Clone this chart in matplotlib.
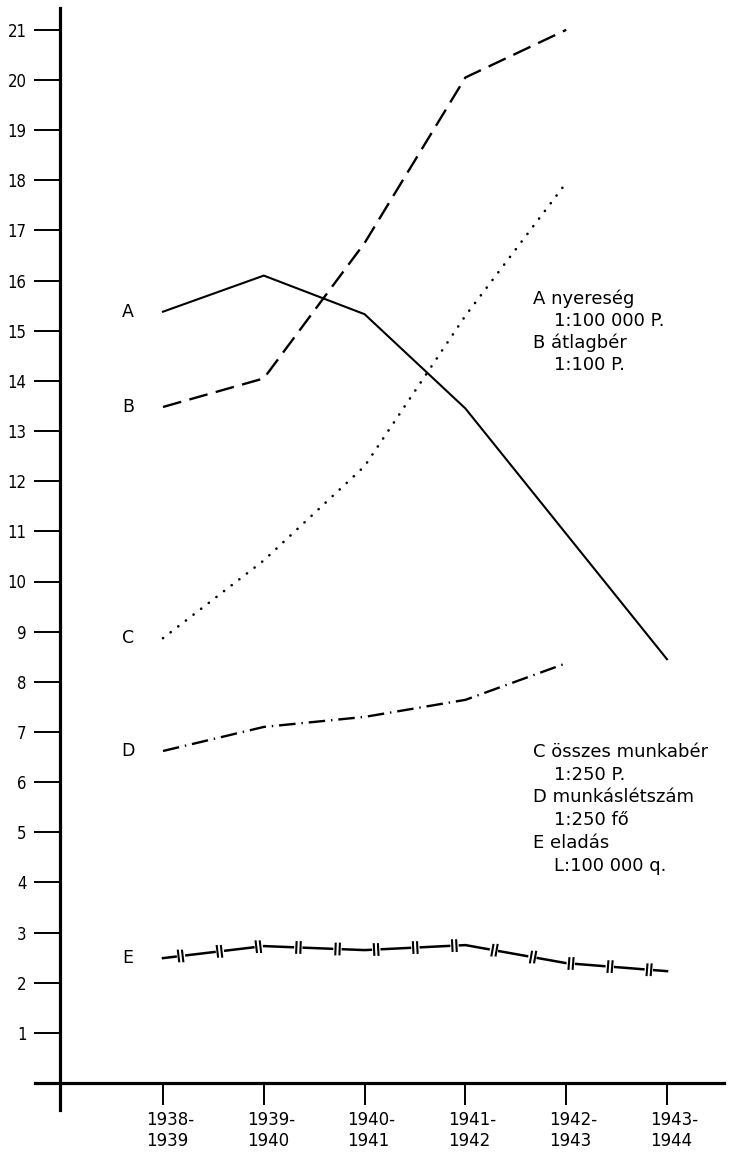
import matplotlib
matplotlib.use('Agg')
import matplotlib.pyplot as plt
from matplotlib import patheffects as pe
from matplotlib import transforms as mtrans

# data (units of the y scale)
years = ['1938-\n1939', '1939-\n1940', '1940-\n1941', '1941-\n1942', '1942-\n1943', '1943-\n1944']
nyereseg = [15.38, 16.1, 15.33, 13.45, 10.95, 8.45]      # A
atlagber = [13.48, 14.05, 16.75, 20.05, 21.0]             # B
osszes_munkaber = [8.87, 10.42, 12.3, 15.3, 17.95]        # C
munkaslétszam = [6.62, 7.1, 7.3, 7.64, 8.37]              # D
eladas = [2.49, 2.73, 2.65, 2.75, 2.39, 2.23]             # E
y_ticks = list(range(1, 22))

plt.rcParams['font.family'] = ['DejaVu Sans']

W, H = 731, 1154
fig = plt.figure(figsize=(W / 100, H / 100), dpi=100)
# pixel frame of the drawing: x axis spans 35..724, y axis spans 8..1110
ax = fig.add_axes([35 / W, (H - 1110) / H, (724 - 35) / W, (1110 - 8) / H])

x = list(range(len(years)))
px_x = 100.8     # pixels per category
px_y = 50.15     # pixels per unit
ax.set_xlim(-128 / px_x, 561 / px_x)
ax.set_ylim(-27 / px_y, 1075 / px_y)

for s in ['top', 'right']:
    ax.spines[s].set_visible(False)
ax.spines['left'].set_position(('data', -103 / px_x))
ax.spines['bottom'].set_position(('data', 0))
ax.spines['left'].set_linewidth(2.3)
ax.spines['bottom'].set_linewidth(2.3)

ax.set_yticks(y_ticks)
ax.set_yticklabels([str(v) for v in y_ticks], fontstretch='condensed')
ax.set_xticks(x)
ax.set_xticklabels(years, multialignment='left')
ax.tick_params(axis='y', direction='out', length=19, width=1.4, pad=5, labelsize=12)
ax.tick_params(axis='x', direction='out', length=16, width=1.4, pad=4, labelsize=12)
for lab in ax.get_xticklabels():
    lab.set_transform(lab.get_transform() + mtrans.ScaledTranslation(5 / 72, 0, fig.dpi_scale_trans))

lw = 1.5
# A nyereség - solid
ax.plot(x, nyereseg, color='black', linewidth=lw)
# B átlagbér - dashed
ax.plot(x[:5], atlagber, color='black', linewidth=lw + 0.2, linestyle=(0, (8, 3.6)))
# C összes munkabér - dotted
ax.plot(x[:5], osszes_munkaber, color='black', linewidth=1.9,
        linestyle=(0, (0.05, 3.6)), dash_capstyle='round')
# D munkáslétszám - dash dot
ax.plot(x[:5], munkaslétszam, color='black', linewidth=lw + 0.2,
        linestyle=(0, (7, 2.5, 0.6, 2.5)))
# E eladás - line broken by double bars
sp = 26.6
h_bar = 4.6
h_gap = 2.0
e_effects = [
    pe.Normal(),
    pe.TickedStroke(offset=(0, -h_gap), spacing=sp, angle=90, length=2 * h_gap / sp,
                    linewidth=6, foreground='white', capstyle='butt'),
]
for dx in (-1.5, 1.5):
    e_effects.append(pe.TickedStroke(offset=(dx, -h_bar), spacing=sp, angle=90,
                                     length=2 * h_bar / sp, linewidth=1.5,
                                     foreground='black', capstyle='butt'))
ax.plot(x, eladas, color='black', linewidth=lw + 0.3, path_effects=e_effects)

# series letters at the start of each line
lab_x = -35 / px_x
for letter, vals in zip('ABCDE', [nyereseg, atlagber, osszes_munkaber, munkaslétszam, eladas]):
    ax.text(lab_x, vals[0], letter, ha='center', va='center', fontsize=12.5)

# keys
def key(px, py, s):
    fig.text(px / W, 1 - py / H, s, ha='left', va='center', fontsize=13)

key(533, 299, 'A nyereség')
key(554, 321, '1:100 000 P.')
key(533, 343, 'B átlagbér')
key(554, 365, '1:100 P.')

key(533, 752, 'C összes munkabér')
key(554, 775, '1:250 P.')
key(533, 797, 'D munkáslétszám')
key(554, 820, '1:250 fő')
key(533, 843, 'E eladás')
key(554, 866, 'L:100 000 q.')

plt.savefig('out.png', dpi=100)
